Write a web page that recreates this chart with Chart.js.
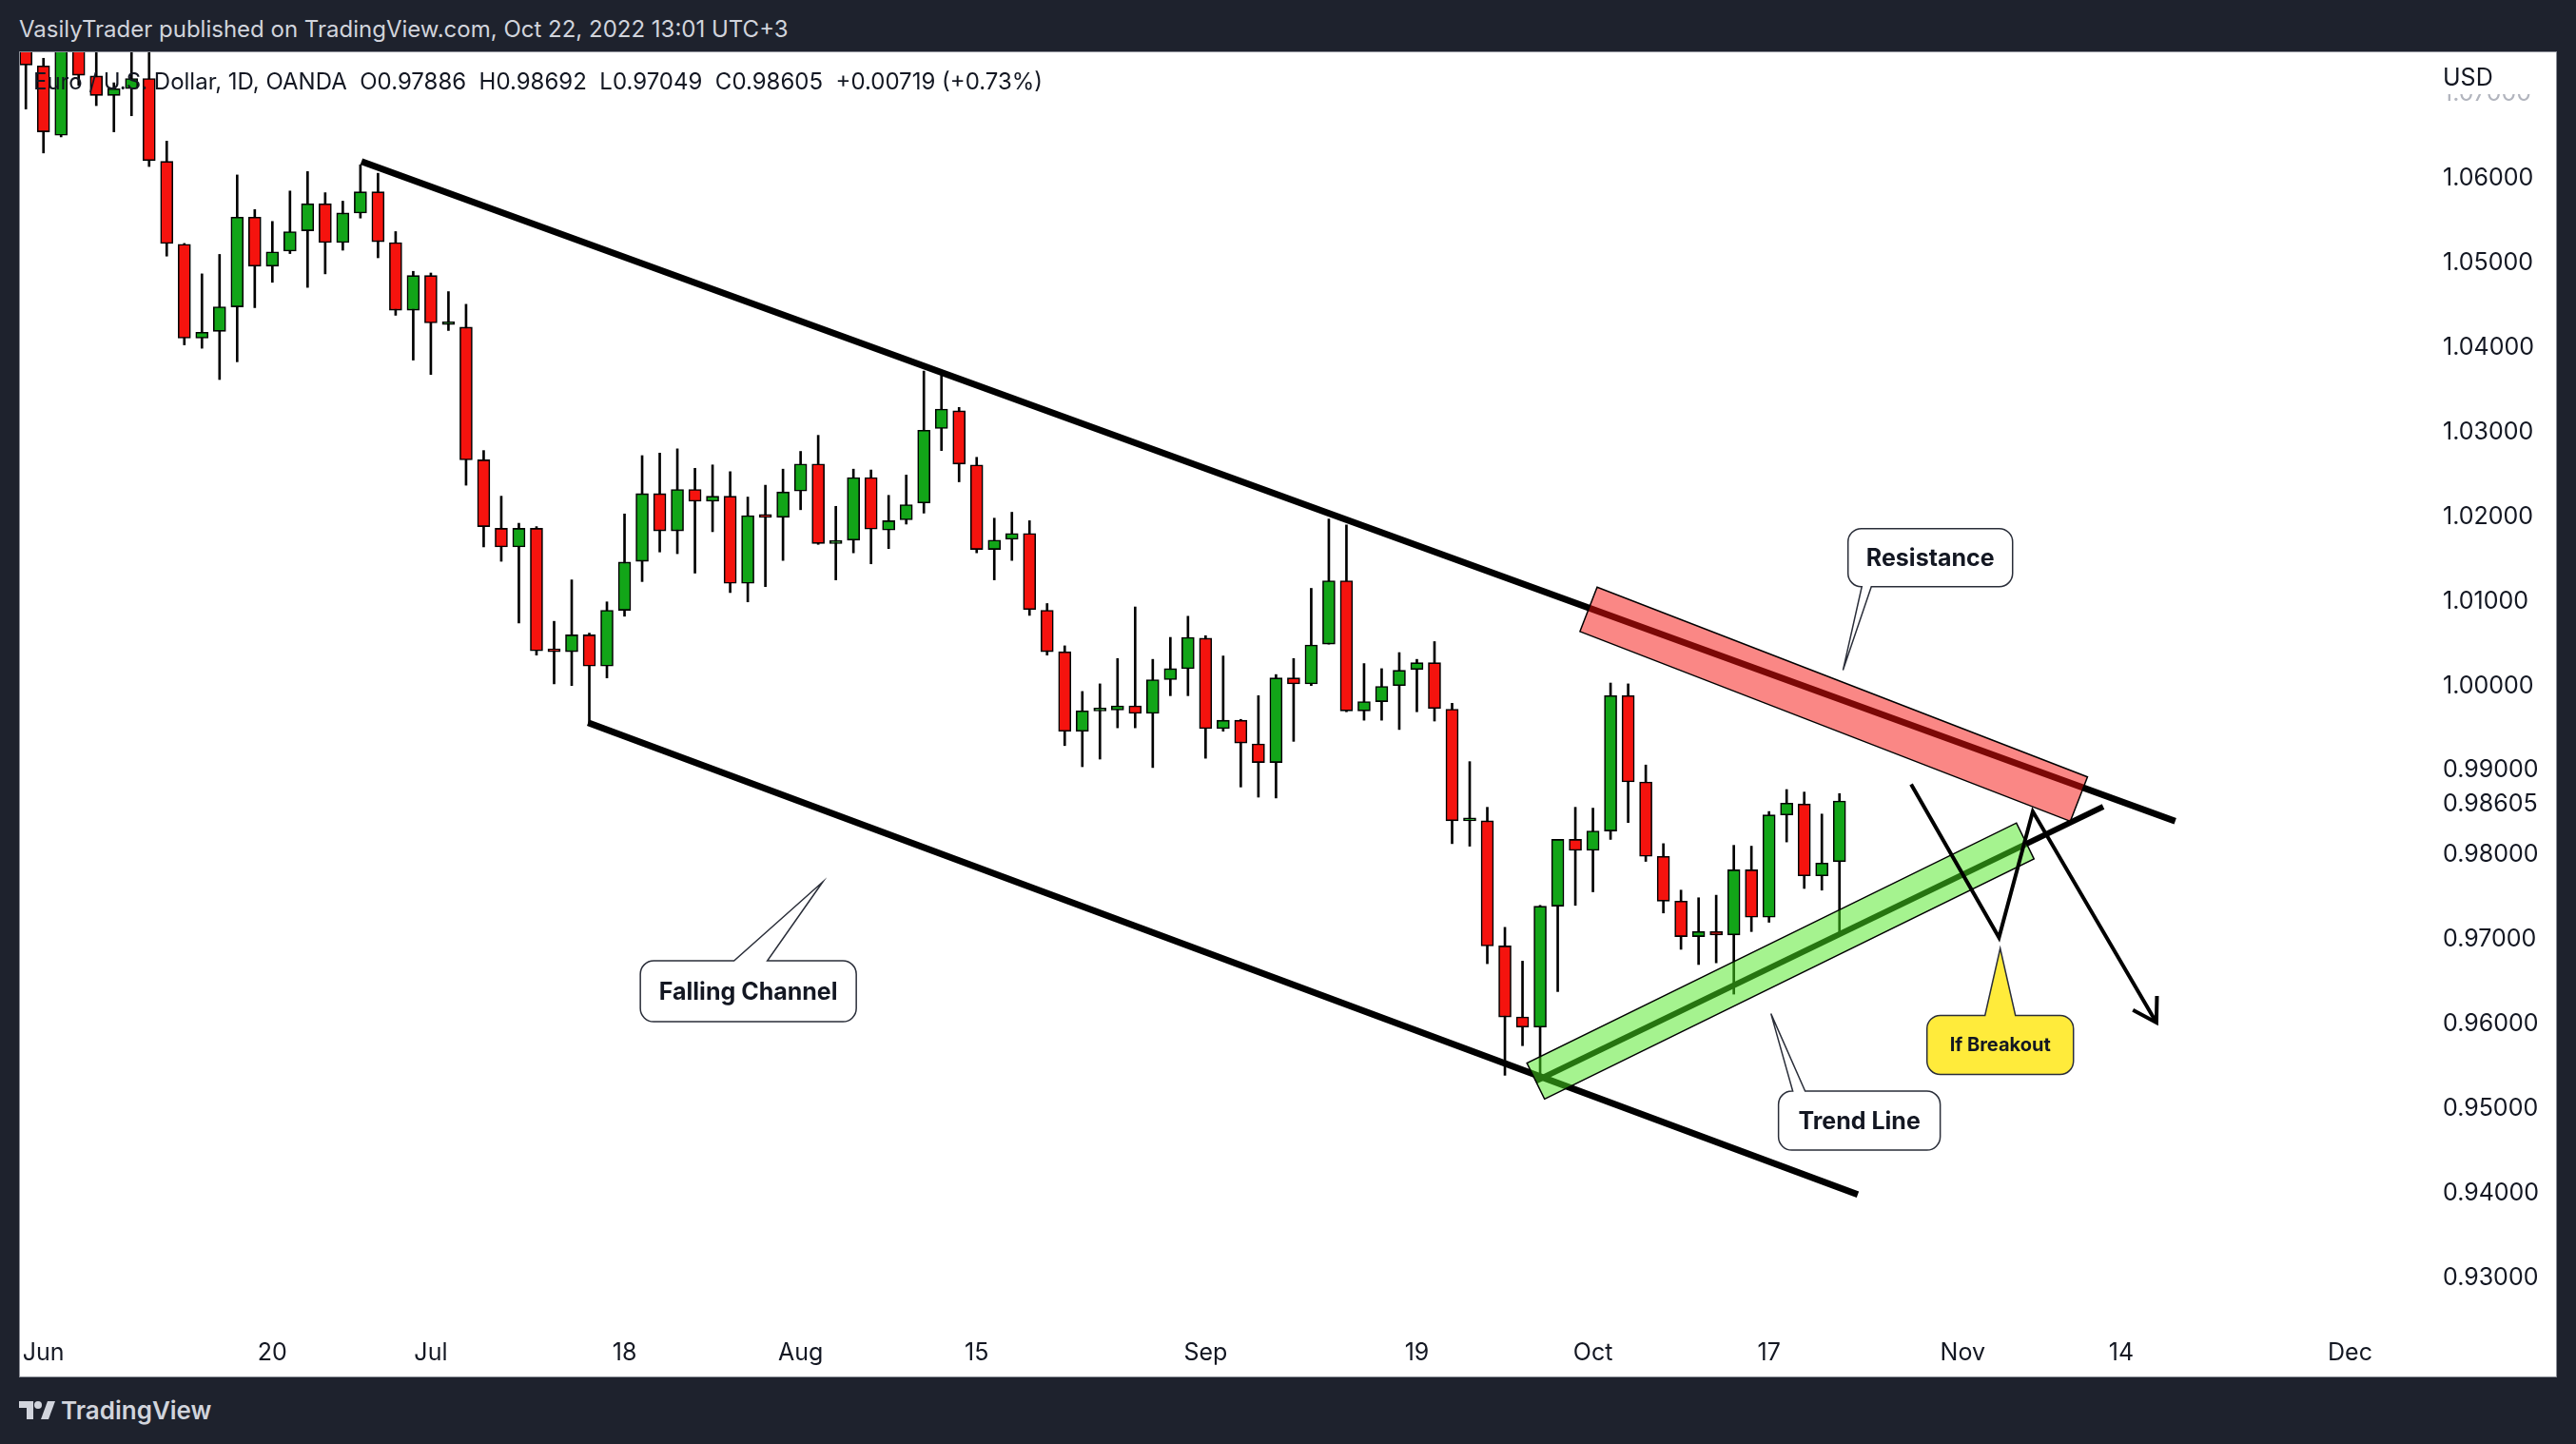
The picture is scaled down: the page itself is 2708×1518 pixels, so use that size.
<!DOCTYPE html>
<html>
<head>
<meta charset="utf-8">
<script src="https://cdn.jsdelivr.net/npm/chart.js@4.4.1/dist/chart.umd.min.js"></script>
<style>
html, body { margin: 0; padding: 0; }
body { width: 2708px; height: 1518px; background: #1e222d; position: relative; overflow: hidden; font-family: 'Inter', sans-serif; }
#top { position: absolute; left: 20px; top: 16px; line-height: 30px; color: #d1d4dc; font-size: 24px; white-space: pre; }
#wrap { position: absolute; left: 21px; top: 55px; width: 2666px; height: 1392px; background: #fff; box-shadow: 0 0 0 1px #8b8e97; }
#legend { position: absolute; left: 35px; top: 71px; line-height: 30px; font-size: 24px; color: #131722; white-space: pre; }
#logo { position: absolute; left: 20px; top: 1466px; height: 32px; display: flex; align-items: center; color: #d1d4dc; font-size: 26px; font-weight: 600; }
#logo svg { margin-right: 6px; }
</style>
</head>
<body>
<div id="top">VasilyTrader published on TradingView.com, Oct 22, 2022 13:01 UTC+3</div>
<div id="wrap"><canvas id="chart"></canvas></div>
<div id="legend">Euro / U.S. Dollar, 1D, OANDA  O0.97886  H0.98692  L0.97049  C0.98605  +0.00719 (+0.73%)</div>
<div id="logo"><svg width="38" height="24" viewBox="0 0 38 24"><path d="M0 3h15v19H8V10H0z" fill="#d1d4dc"/><circle cx="20" cy="7" r="4" fill="#d1d4dc"/><path d="M23 22l7-19h8l-7 19z" fill="#d1d4dc"/></svg>TradingView</div>
<script>
Chart.defaults.font.family = "'Inter', sans-serif";
Chart.defaults.color = '#131722';

// EUR/USD daily, OANDA. first bar = May 31 (bar -1), Jun 1 = bar 0
const firstBar = -1;
const open = [
  1.0778, 1.0730, 1.0648, 1.0749, 1.0718, 1.0695, 1.0703, 1.0715, 1.0617, 1.0519,
  1.0408, 1.0416, 1.0445, 1.0551, 1.0493, 1.0511, 1.0535, 1.0567, 1.0521, 1.0556,
  1.0581, 1.0521, 1.0441, 1.0482, 1.0424, 1.0421, 1.0264, 1.0183, 1.0161, 1.0183,
  1.0038, 1.0037, 1.0057, 1.0020, 1.0086, 1.0144, 1.0224, 1.0180, 1.0229, 1.0215,
  1.0221, 1.0118, 1.0198, 1.0196, 1.0227, 1.0259, 1.0165, 1.0169, 1.0243, 1.0181,
  1.0193, 1.0213, 1.0301, 1.0322, 1.0258, 1.0158, 1.0170, 1.0177, 1.0086, 1.0037,
  0.9943, 0.9967, 0.9968, 0.9973, 0.9964, 1.0004, 1.0017, 1.0053, 0.9946, 0.9956,
  0.9928, 0.9906, 1.0006, 0.9999, 1.0046, 1.0121, 0.9967, 0.9978, 0.9997, 1.0016,
  1.0024, 0.9969, 0.9837, 0.9837, 0.9689, 0.9605, 0.9593, 0.9736, 0.9815, 0.9802,
  0.9825, 0.9985, 0.9883, 0.9795, 0.9742, 0.9700, 0.9706, 0.9702, 0.9779, 0.9723,
  0.9844, 0.9857, 0.9772, 0.97886
];
const high = [
  1.0786, 1.0739, 1.0752, 1.0764, 1.0752, 1.0710, 1.0748, 1.0774, 1.0641, 1.0520,
  1.0484, 1.0507, 1.0601, 1.0560, 1.0546, 1.0582, 1.0605, 1.0580, 1.0570, 1.0613,
  1.0603, 1.0534, 1.0487, 1.0485, 1.0463, 1.0448, 1.0275, 1.0221, 1.0189, 1.0185,
  1.0073, 1.0122, 1.0059, 1.0096, 1.0200, 1.0269, 1.0272, 1.0277, 1.0254, 1.0258,
  1.0250, 1.0220, 1.0234, 1.0253, 1.0274, 1.0293, 1.0209, 1.0253, 1.0252, 1.0222,
  1.0246, 1.0369, 1.0364, 1.0326, 1.0267, 1.0195, 1.0202, 1.0192, 1.0094, 1.0044,
  0.9990, 0.9999, 1.0029, 1.0090, 1.0028, 1.0054, 1.0079, 1.0056, 1.0032, 0.9957,
  0.9985, 1.0010, 1.0029, 1.0112, 1.0194, 1.0187, 1.0023, 1.0017, 1.0036, 1.0028,
  1.0049, 0.9976, 0.9907, 0.9853, 0.9711, 0.9671, 0.9737, 0.9815, 0.9853, 0.9852,
  1.0000, 0.9999, 0.9903, 0.9810, 0.9755, 0.9746, 0.9749, 0.9808, 0.9807, 0.9848,
  0.9874, 0.9871, 0.9845, 0.98692
];
const low = [
  1.0679, 1.0627, 1.0646, 1.0707, 1.0683, 1.0652, 1.0671, 1.0611, 1.0505, 1.0400,
  1.0396, 1.0359, 1.0380, 1.0444, 1.0474, 1.0508, 1.0468, 1.0484, 1.0512, 1.0550,
  1.0503, 1.0435, 1.0382, 1.0365, 1.0417, 1.0234, 1.0161, 1.0144, 1.0071, 1.0033,
  0.9999, 0.9997, 0.9953, 1.0006, 1.0079, 1.0120, 1.0155, 1.0153, 1.0130, 1.0179,
  1.0107, 1.0096, 1.0114, 1.0145, 1.0205, 1.0164, 1.0122, 1.0154, 1.0141, 1.0159,
  1.0188, 1.0201, 1.0275, 1.0238, 1.0154, 1.0122, 1.0145, 1.0080, 1.0033, 0.9926,
  0.9901, 0.9910, 0.9947, 0.9947, 0.9900, 0.9985, 0.9985, 0.9911, 0.9943, 0.9877,
  0.9865, 0.9864, 0.9931, 0.9997, 1.0046, 0.9966, 0.9956, 0.9956, 0.9945, 0.9966,
  0.9955, 0.9810, 0.9807, 0.9668, 0.9536, 0.9571, 0.9535, 0.9635, 0.9737, 0.9753,
  0.9815, 0.9835, 0.9789, 0.9728, 0.9685, 0.9667, 0.9669, 0.9632, 0.9706, 0.9717,
  0.9812, 0.9757, 0.9755, 0.97049
];
const close = [
  1.0731, 1.0652, 1.0749, 1.0719, 1.0695, 1.0703, 1.0715, 1.0618, 1.0520, 1.0408,
  1.0415, 1.0445, 1.0551, 1.0493, 1.0510, 1.0534, 1.0567, 1.0521, 1.0556, 1.0581,
  1.0522, 1.0441, 1.0482, 1.0426, 1.0425, 1.0264, 1.0185, 1.0161, 1.0183, 1.0038,
  1.0037, 1.0057, 1.0020, 1.0086, 1.0143, 1.0224, 1.0180, 1.0229, 1.0215, 1.0221,
  1.0118, 1.0198, 1.0196, 1.0226, 1.0259, 1.0165, 1.0167, 1.0243, 1.0182, 1.0192,
  1.0211, 1.0299, 1.0324, 1.0259, 1.0158, 1.0169, 1.0177, 1.0087, 1.0037, 0.9943,
  0.9967, 0.9968, 0.9973, 0.9964, 1.0004, 1.0017, 1.0054, 0.9946, 0.9956, 0.9929,
  0.9906, 1.0006, 0.9999, 1.0045, 1.0121, 0.9967, 0.9978, 0.9996, 1.0015, 1.0024,
  0.9970, 0.9837, 0.9840, 0.9689, 0.9605, 0.9593, 0.9736, 0.9815, 0.9802, 0.9825,
  0.9985, 0.9883, 0.9795, 0.9742, 0.9700, 0.9706, 0.9702, 0.9779, 0.9723, 0.9844,
  0.9858, 0.9772, 0.9787, 0.98605
];

// time axis: bar number -> label
const tickBars = [0, 13, 22, 33, 43, 53, 66, 78, 88, 98, 109, 118, 131];
const tickText = ['Jun', '20', 'Jul', '18', 'Aug', '15', 'Sep', '19', 'Oct', '17', 'Nov', '14', 'Dec'];
// price axis
const priceTicks = [0.93, 0.94, 0.95, 0.96, 0.97, 0.98, 0.98605, 0.99, 1.00, 1.01, 1.02, 1.03, 1.04, 1.05, 1.06, 1.07];

// drawings, points as [bar, price]
const upperChannel = [[18.06, 1.0617], [121.07, 0.98365]];
const lowerChannel = [[30.93, 0.9953], [103.04, 0.9395]];
const trendLine = [[84.75, 0.95291], [116.98, 0.98537]];
const breakoutPath = [[106.07, 0.98802], [111.06, 0.9699], [112.98, 0.98481], [120.0, 0.95983]];
const resistanceBand = [[87.75, 1.00872], [115.6, 0.98627]];
const trendBand = [[84.75, 0.95291], [112.55, 0.98132]];

const bands = [
  { pts: resistanceBand, half: 25, fill: 'rgba(245,16,12,0.5)' },
  { pts: trendBand, half: 21, fill: 'rgba(75,231,31,0.5)' }
];
const callouts = [
  { text: 'Falling Channel', at: [40.03, 0.96354], w: 227, h: 64, side: 'top', base: [-15, 20], tip: [44.26, 0.97648], fill: '#ffffff', size: 25 },
  { text: 'Resistance', at: [107.16, 1.01483], w: 173, h: 61, side: 'bottom', base: [-72, -62], tip: [102.2, 1.00151], fill: '#ffffff', size: 25 },
  { text: 'Trend Line', at: [103.13, 0.94824], w: 170, h: 62, side: 'top', base: [-70, -57], tip: [98.11, 0.96089], fill: '#ffffff', size: 25 },
  { text: 'If Breakout', at: [111.13, 0.95719], w: 154, h: 62, side: 'top', base: [-16, 16], tip: [111.13, 0.96861], fill: '#ffeb3b', size: 20 }
];

const toXY = pts => pts.map(p => ({ x: p[0], y: p[1] }));
const bars = open.map((o, i) => i + firstBar);

function rotatedRect(ctx, X, Y, band) {
  const ax = X(band.pts[0][0]), ay = Y(band.pts[0][1]);
  const bx = X(band.pts[1][0]), by = Y(band.pts[1][1]);
  const len = Math.hypot(bx - ax, by - ay);
  const nx = -(by - ay) / len * band.half, ny = (bx - ax) / len * band.half;
  ctx.beginPath();
  ctx.moveTo(ax + nx, ay + ny);
  ctx.lineTo(bx + nx, by + ny);
  ctx.lineTo(bx - nx, by - ny);
  ctx.lineTo(ax - nx, ay - ny);
  ctx.closePath();
  ctx.fillStyle = band.fill;
  ctx.fill();
  ctx.lineWidth = 1.5;
  ctx.strokeStyle = '#000';
  ctx.stroke();
}

function calloutPath(ctx, l, t, w, h, r, side, b1, b2, tx, ty) {
  const R = l + w, B = t + h;
  ctx.beginPath();
  ctx.moveTo(l + r, t);
  if (side === 'top') { ctx.lineTo(b1, t); ctx.lineTo(tx, ty); ctx.lineTo(b2, t); }
  ctx.lineTo(R - r, t);
  ctx.arcTo(R, t, R, t + r, r);
  ctx.lineTo(R, B - r);
  ctx.arcTo(R, B, R - r, B, r);
  if (side === 'bottom') { ctx.lineTo(b2, B); ctx.lineTo(tx, ty); ctx.lineTo(b1, B); }
  ctx.lineTo(l + r, B);
  ctx.arcTo(l, B, l, B - r, r);
  ctx.lineTo(l, t + r);
  ctx.arcTo(l, t, l + r, t, r);
  ctx.closePath();
}

const drawings = {
  id: 'drawings',
  afterDatasetDraw(chart, args) {
    if (args.meta.label !== 'Trend line') return;
    const ctx = chart.ctx, a = chart.chartArea;
    const X = v => chart.scales.x.getPixelForValue(v), Y = v => chart.scales.y.getPixelForValue(v);
    ctx.save();
    ctx.beginPath();
    ctx.rect(a.left, a.top, a.right - a.left, a.bottom - a.top);
    ctx.clip();
    bands.forEach(b => rotatedRect(ctx, X, Y, b));
    ctx.restore();
  },
  afterDatasetsDraw(chart) {
    const ctx = chart.ctx;
    const X = v => chart.scales.x.getPixelForValue(v), Y = v => chart.scales.y.getPixelForValue(v);
    // arrow head at the end of the breakout path
    const pts = chart.getDatasetMeta(chart.data.datasets.findIndex(d => d.label === 'Breakout')).data;
    const p1 = pts[pts.length - 2], p2 = pts[pts.length - 1];
    const ang = Math.atan2(p2.y - p1.y, p2.x - p1.x);
    ctx.save();
    ctx.strokeStyle = '#000';
    ctx.lineWidth = 4;
    ctx.lineCap = 'butt';
    ctx.beginPath();
    ctx.moveTo(p2.x - 28 * Math.cos(ang - 0.55), p2.y - 28 * Math.sin(ang - 0.55));
    ctx.lineTo(p2.x, p2.y);
    ctx.lineTo(p2.x - 28 * Math.cos(ang + 0.55), p2.y - 28 * Math.sin(ang + 0.55));
    ctx.stroke();

    callouts.forEach(c => {
      const cx = X(c.at[0]), cy = Y(c.at[1]);
      const l = cx - c.w / 2, t = cy - c.h / 2;
      calloutPath(ctx, l, t, c.w, c.h, 14, c.side, cx + c.base[0], cx + c.base[1], X(c.tip[0]), Y(c.tip[1]));
      ctx.fillStyle = c.fill;
      ctx.fill();
      ctx.lineWidth = 1.5;
      ctx.strokeStyle = '#2a2e39';
      ctx.stroke();
      ctx.fillStyle = '#131722';
      ctx.font = "700 " + c.size + "px 'Inter', sans-serif";
      ctx.textAlign = 'center';
      ctx.textBaseline = 'middle';
      ctx.fillText(c.text, cx, cy + 1);
    });
    ctx.restore();
  },
  afterDraw(chart) {
    // currency label covering the top of the price scale
    const ctx = chart.ctx, ys = chart.scales.y;
    ctx.save();
    ctx.fillStyle = '#fff';
    ctx.fillRect(ys.left + 2, 0, ys.right - ys.left - 2, ys.getPixelForValue(1.07) + 3);
    ctx.fillStyle = '#131722';
    ctx.font = "25px 'Inter', sans-serif";
    ctx.textAlign = 'left';
    ctx.textBaseline = 'middle';
    ctx.fillText('USD', ys.left + 13, 27);
    ctx.restore();
  }
};

new Chart(document.getElementById('chart'), {
  type: 'bar',
  data: {
    datasets: [
      { type: 'line', label: 'Breakout', data: toXY(breakoutPath), borderColor: '#000', borderWidth: 4, pointRadius: 0, borderJoinStyle: 'miter', order: 1 },
      { type: 'line', label: 'Trend line', data: toXY(trendLine), borderColor: '#000', borderWidth: 6, pointRadius: 0, order: 3 },
      { type: 'line', label: 'Upper channel', data: toXY(upperChannel), borderColor: '#000', borderWidth: 7, pointRadius: 0, order: 4 },
      { type: 'line', label: 'Lower channel', data: toXY(lowerChannel), borderColor: '#000', borderWidth: 7, pointRadius: 0, order: 5 },
      {
        label: 'Body', order: 6, grouped: false, barThickness: 13, minBarLength: 3,
        data: bars.map((b, i) => ({ x: b, y: [open[i], close[i]] })),
        backgroundColor: close.map((c, i) => c >= open[i] ? '#12a518' : '#f5130e'),
        borderColor: '#000', borderWidth: 1.6, borderSkipped: false
      },
      {
        label: 'Wick', order: 7, grouped: false, barThickness: 2,
        data: bars.map((b, i) => ({ x: b, y: [low[i], high[i]] })),
        backgroundColor: '#000', borderWidth: 0
      }
    ]
  },
  options: {
    responsive: true,
    maintainAspectRatio: false,
    animation: false,
    events: [],
    layout: { padding: 0 },
    plugins: { legend: { display: false }, tooltip: { enabled: false } },
    scales: {
      x: {
        type: 'linear', offset: false,
        min: -1.3344, max: 135.565,
        grid: { display: false, drawTicks: false },
        border: { display: false },
        ticks: { autoSkip: false, maxRotation: 0, padding: 12, font: { size: 25 }, color: '#131722',
          callback: (v, i) => tickText[i] },
        afterBuildTicks: s => { s.ticks = tickBars.map(v => ({ value: v })); },
        afterFit: s => { s.height = 52; s.paddingLeft = 0; s.paddingRight = 0; }
      },
      y: {
        type: 'linear', position: 'right',
        min: 0.923824, max: 1.074606,
        grid: { display: false, drawTicks: false },
        border: { display: false },
        ticks: { autoSkip: false, padding: 13, labelOffset: 3, font: { size: 25 },
          color: c => (c.tick && c.tick.value > 1.065) ? '#b2b5be' : '#131722',
          callback: v => v.toFixed(5) },
        afterBuildTicks: s => { s.ticks = priceTicks.map(v => ({ value: v })); },
        afterFit: s => { s.width = 132; s.paddingTop = 0; s.paddingBottom = 0; }
      }
    }
  },
  plugins: [drawings]
});
</script>
</body>
</html>
